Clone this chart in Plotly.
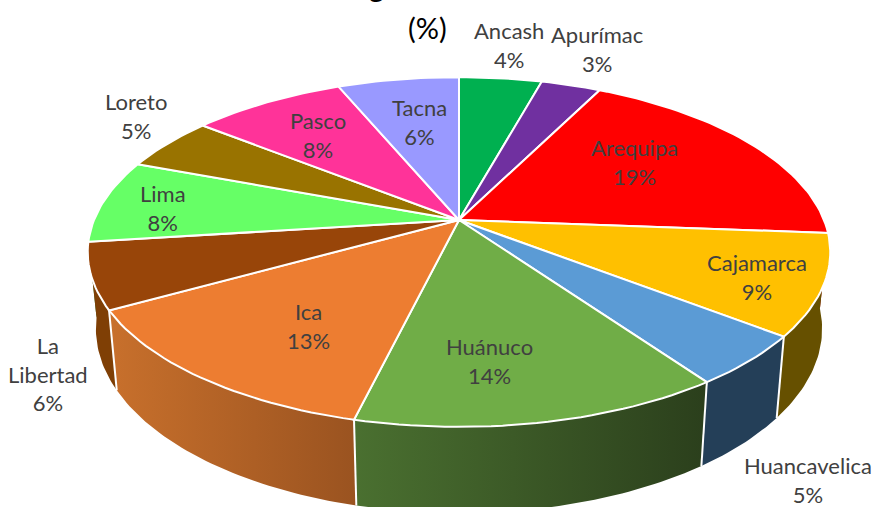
import math
import plotly.graph_objects as go

# Data
REGIONS = ["Ancash", "Apurímac", "Arequipa", "Cajamarca", "Huancavelica", "Huánuco",
           "Ica", "La Libertad", "Lima", "Loreto", "Pasco", "Tacna"]
SHARES = [4.3, 3.1, 18.8, 9.3, 4.7, 13.6, 13.1, 6.1, 7.7, 5, 8, 6.3]

# Styling and layout, separate from the data
TOP_COLORS = ["#00B050", "#7030A0", "#FF0000", "#FFC000", "#5B9BD5", "#70AD47",
              "#ED7D31", "#984509", "#66FF66", "#997300", "#FF3399", "#9999FF"]
SIDE_LEFT = ["#00692F", "#431C60", "#990000", "#665000", "#243F58", "#4A7030",
             "#C8702C", "#7F3F05", "#2E7D2E", "#5C4500", "#991F5C", "#5C5C99"]
SIDE_RIGHT = ["#00692F", "#431C60", "#990000", "#665000", "#243F58", "#2B3F1C",
              "#9A5320", "#7F3F05", "#2E7D2E", "#5C4500", "#991F5C", "#5C5C99"]
LABEL_XY = [(509, 45), (597, 49), (634, 162), (757, 277), (808, 480), (489, 361),
            (308, 326), (48, 374), (163, 208), (136, 116), (318, 135), (419, 122)]
LABEL_TEXT = ["Ancash", "Apurímac", "Arequipa", "Cajamarca", "Huancavelica", "Huánuco",
              "Ica", "La<br>Libertad", "Lima", "Loreto", "Pasco", "Tacna"]
FONT = "Lato"
CX, CY, A, B, K = 459, 220, 365, 169, 0.183
DROP, SX, SY = 75, 0.978, 1.054


def top(theta):
    t = math.radians(theta)
    u, v = math.sin(t), -math.cos(t)
    w = 1 - K * v
    return A * u / w, B * v / w


def rim_top(theta):
    x, y = top(theta)
    return CX + x, CY + y


def rim_bottom(theta):
    x, y = top(theta)
    return CX + SX * x, CY + DROP + SY * y


def arc(a, b, step=1.5):
    n = max(2, int(abs(b - a) / step) + 1)
    return [a + (b - a) * i / n for i in range(n + 1)]


total = sum(SHARES)
bounds = [0]
for s in SHARES:
    bounds.append(bounds[-1] + s / total * 360)

fig = go.Figure()
SIDE_FROM, SIDE_TO = 70, 290

# Side wall, back to front
walls = []
for i in range(len(SHARES)):
    a, b = max(bounds[i], SIDE_FROM), min(bounds[i + 1], SIDE_TO)
    if a < b:
        walls.append((i, a, b))
walls.sort(key=lambda s: abs((s[1] + s[2]) / 2 - 180), reverse=True)
for i, a, b in walls:
    p = arc(a, b, 1)
    pt = [rim_top(t) for t in p]
    pb = [rim_bottom(t) for t in reversed(p)]
    poly = pt + pb + [pt[0]]
    fig.add_trace(go.Scatter(x=[q[0] for q in poly], y=[q[1] for q in poly], mode="lines",
                             fill="toself",
                             fillgradient=dict(type="horizontal",
                                               colorscale=[[0, SIDE_LEFT[i]], [1, SIDE_RIGHT[i]]]),
                             line=dict(width=0),
                             hoverinfo="skip", showlegend=False))

# White edges between the wall pieces
for b in bounds[1:-1]:
    if 100 < b < 262:
        p, q = rim_top(b), rim_bottom(b)
        fig.add_trace(go.Scatter(x=[p[0], q[0]], y=[p[1], q[1]], mode="lines",
                                 line=dict(color="white", width=2),
                                 hoverinfo="skip", showlegend=False))

# Top face
for i, name in enumerate(REGIONS):
    p = [rim_top(t) for t in arc(bounds[i], bounds[i + 1])]
    xs = [CX] + [q[0] for q in p] + [CX]
    ys = [CY] + [q[1] for q in p] + [CY]
    fig.add_trace(go.Scatter(x=xs, y=ys, mode="lines", fill="toself", fillcolor=TOP_COLORS[i],
                             line=dict(color="white", width=2), name=name,
                             hovertemplate=f"{name}: {round(SHARES[i])}%<extra></extra>",
                             showlegend=False))

# Labels
for i, (lx, ly) in enumerate(LABEL_XY):
    fig.add_annotation(x=lx, y=ly, text=f"{LABEL_TEXT[i]}<br>{round(SHARES[i])}%", showarrow=False,
                       font=dict(family=FONT, size=22, color="#404040"), align="center")

fig.add_annotation(x=427, y=27, text="(%)", showarrow=False,
                   font=dict(family=FONT, size=29, color="black"))
fig.add_annotation(x=376, y=1, yref="paper", yanchor="bottom", yshift=-5, text="g", showarrow=False,
                   font=dict(family=FONT, size=29, color="black"))

fig.update_layout(width=876, height=507, margin=dict(l=0, r=0, t=0, b=0),
                  paper_bgcolor="white", plot_bgcolor="white",
                  xaxis=dict(range=[0, 876], visible=False, fixedrange=True),
                  yaxis=dict(range=[507, 0], visible=False, fixedrange=True))
fig.write_html("out.html", config=dict(displayModeBar=False),
               post_script="document.body.style.margin='0';")
